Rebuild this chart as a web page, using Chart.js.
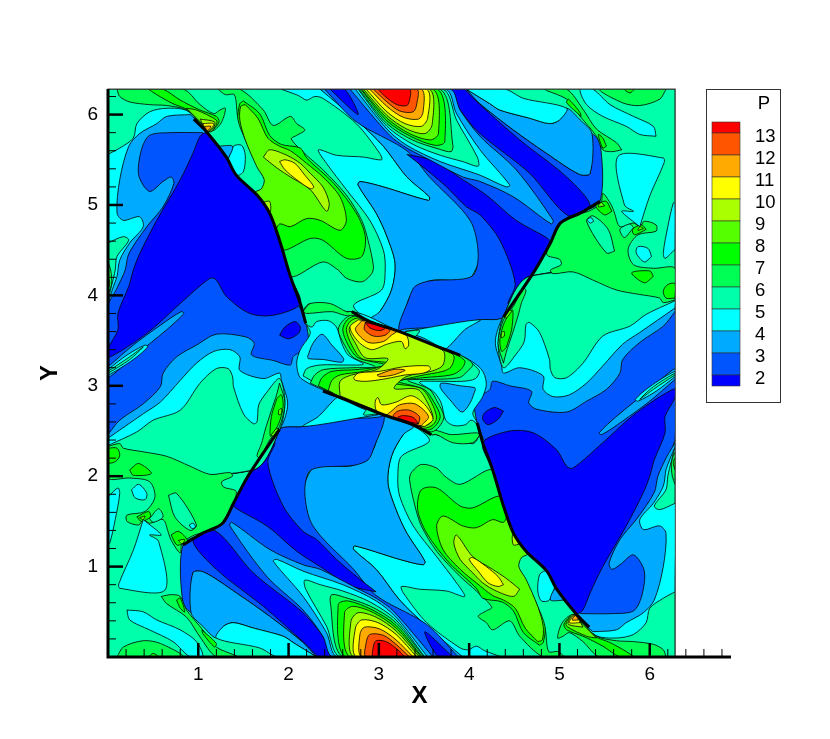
<!DOCTYPE html>
<html>
<head>
<meta charset="utf-8">
<style>body{margin:0;background:#fff}canvas{display:block}</style>
<script src="https://cdn.jsdelivr.net/npm/chart.js@4/dist/chart.umd.min.js"></script>
</head>
<body>
<canvas id="myChart" width="830" height="739"></canvas>
<script>
// contour levels and band colours, lowest band first
const levels = [2,3,4,5,6,7,8,9,10,11,12,13];
const bandColors = ['#0000ff','#0055ff','#00aaff','#00ffff','#00ffaa','#00ff55','#00ff00','#55ff00','#aaff00','#ffff00','#ffaa00','#ff5500','#ff0000'];
const xTicks = [1,2,3,4,5,6];
const yTicks = [1,2,3,4,5,6];

// contour outlines, flat x,y lists in plot units
const frameBox = [0,0, 6.28,0, 6.28,6.28, 0,6.28];

// upper wave and its twin at the bottom
const waveCyan = [1.92,6.28, 2.35,6.28, 2.75,5.94, 3.05,5.65, 3.31,5.31, 3.56,5.09, 3.55,5.05, 3.05,5.20, 2.79,5.26, 2.77,5.22, 2.97,4.91, 3.09,4.65, 3.18,4.35, 3.14,4.06, 3.01,3.82, 2.90,3.73, 2.72,3.89, 3.03,4.06, 3.07,4.28, 3.05,4.50, 2.90,4.83, 2.64,5.17, 2.42,5.46, 2.33,5.61, 2.53,5.55, 2.83,5.53, 3.03,5.50, 3.01,5.57, 2.75,5.90, 2.38,6.18, 2.29,6.20, 2.20,6.16, 2.11,6.21];
const waveCyanB = [4.36,0, 3.93,0, 3.53,.34, 3.23,.63, 2.97,.97, 2.72,1.19, 2.73,1.23, 3.23,1.08, 3.49,1.02, 3.51,1.06, 3.31,1.37, 3.19,1.63, 3.10,1.93, 3.14,2.22, 3.27,2.46, 3.38,2.55, 3.56,2.39, 3.25,2.22, 3.21,2.00, 3.23,1.78, 3.38,1.45, 3.64,1.11, 3.86,.82, 3.95,.67, 3.75,.73, 3.45,.75, 3.25,.78, 3.27,.71, 3.53,.38, 3.90,.10, 3.99,.08, 4.08,.12, 4.17,.07];
const waveL3 = [2.35,6.28, 2.75,5.94, 3.05,5.65, 3.31,5.31, 3.56,5.09, 3.55,5.05, 3.05,5.20, 2.79,5.26, 2.77,5.22, 2.97,4.91, 3.09,4.65, 3.18,4.35, 3.14,4.06, 3.01,3.82, 2.90,3.73, 3.23,3.60, 3.34,3.98, 3.56,4.16, 4.03,4.21, 4.23,5.28, 3.12,6.28];
const waveL3B = [3.93,0, 3.53,.34, 3.23,.63, 2.97,.97, 2.72,1.19, 2.73,1.23, 3.23,1.08, 3.49,1.02, 3.51,1.06, 3.31,1.37, 3.19,1.63, 3.10,1.93, 3.14,2.22, 3.27,2.46, 3.38,2.55, 3.05,2.68, 2.94,2.30, 2.72,2.12, 2.25,2.07, 2.05,1.00, 3.16,0];
const waveL2 = [2.40,6.28, 2.75,5.92, 3.31,5.60, 3.56,5.31, 4.01,4.83, 4.10,4.46, 4.03,4.21, 3.56,4.16, 3.40,4.10, 3.34,3.98, 3.23,3.60, 3.68,3.65, 4.12,3.73, 4.38,3.76, 4.73,4.28, 4.89,4.58, 5.00,4.80, 5.22,4.91, 5.45,5.04, 5.45,5.68, 5.34,5.79, 5.34,5.35, 5.22,5.34, 4.86,5.57, 4.49,5.83, 4.12,6.12, 3.97,6.28];
const waveL2B = [3.88,0, 3.53,.36, 2.97,.68, 2.72,.97, 2.27,1.45, 2.18,1.82, 2.25,2.07, 2.72,2.12, 2.88,2.18, 2.94,2.30, 3.05,2.68, 2.60,2.63, 2.16,2.55, 1.90,2.52, 1.55,2.00, 1.39,1.70, 1.28,1.48, 1.06,1.37, .83,1.24, .83,.60, .94,.49, .94,.93, 1.06,.94, 1.42,.71, 1.79,.45, 2.16,.16, 2.31,0];
const sideL3 = [3.97,6.28, 4.23,6.12, 4.34,6.05, 4.67,5.96, 4.89,5.90, 5.00,5.94, 5.08,6.07, 5.23,5.94, 5.36,5.79, 5.34,5.35, 5.22,5.34, 4.86,5.57, 4.49,5.83, 4.12,6.12];
const sideL3B = [2.31,0, 2.05,.16, 1.94,.23, 1.61,.32, 1.39,.38, 1.28,.34, 1.20,.21, 1.05,.34, .92,.49, .94,.93, 1.06,.94, 1.42,.71, 1.79,.45, 2.16,.16];
const sideCyan = [3.97,6.28, 4.40,6.28, 4.60,6.18, 5.08,6.07, 5.00,5.94, 4.89,5.90, 4.67,5.96, 4.34,6.05, 4.23,6.12];
const sideCyanB = [2.31,0, 1.88,0, 1.68,.10, 1.20,.21, 1.28,.34, 1.39,.38, 1.61,.32, 1.94,.23, 2.05,.16];
const tipL1 = [2.46,6.28, 2.77,6.00, 2.62,6.28];
const tipL1B = [3.82,0, 3.51,.28, 3.66,0];
const stripL1 = [3.95,6.28, 4.12,6.11, 4.56,5.72, 5.08,5.31, 5.34,4.99, 5.10,4.88, 4.67,5.35, 4.12,5.79, 3.93,6.01, 3.77,6.28];
const stripL1B = [2.33,0, 2.16,.17, 1.72,.56, 1.20,.97, .94,1.29, 1.18,1.40, 1.61,.93, 2.16,.49, 2.35,.27, 2.51,0];
const wedgeL1 = [3.31,5.56, 3.60,5.49, 3.93,5.28, 4.19,5.11, 4.52,4.83, 4.87,4.63, 4.89,4.58, 4.67,4.17, 4.49,3.89, 4.43,3.91, 4.51,4.13, 4.34,4.61, 4.12,4.89, 3.97,4.98, 3.75,5.20, 3.49,5.42];
const wedgeL1B = [2.97,.72, 2.68,.79, 2.35,1.00, 2.09,1.17, 1.76,1.45, 1.41,1.65, 1.39,1.70, 1.61,2.11, 1.79,2.39, 1.85,2.37, 1.77,2.15, 1.94,1.67, 2.16,1.39, 2.31,1.30, 2.53,1.08, 2.79,.86];

// top peak and bottom peak, outermost first
const peak3 = [2.68,6.28, 3.12,5.77, 3.31,5.63, 3.56,5.50, 3.93,5.31, 4.12,5.26, 4.49,5.09, 4.91,4.79, 4.93,4.83, 4.52,5.39, 4.12,5.76, 3.90,6.05, 3.79,6.28];
const peak3B = [3.60,0, 3.16,.51, 2.97,.65, 2.72,.78, 2.35,.97, 2.16,1.02, 1.79,1.19, 1.37,1.49, 1.35,1.45, 1.76,.89, 2.16,.52, 2.38,.23, 2.49,0];
const peak4 = [2.74,6.28, 3.09,5.84, 3.31,5.66, 3.68,5.48, 4.12,5.33, 4.41,5.20, 4.45,5.22, 4.12,5.61, 3.86,6.01, 3.74,6.28];
const peak4B = [3.54,0, 3.19,.44, 2.97,.62, 2.60,.80, 2.16,.95, 1.87,1.08, 1.83,1.06, 2.16,.67, 2.42,.27, 2.54,0];
const peak5 = [2.77,6.28, 3.09,5.87, 3.38,5.67, 3.68,5.55, 3.93,5.48, 4.10,5.43, 4.09,5.53, 3.86,5.94, 3.71,6.28];
const peak5B = [3.51,0, 3.19,.41, 2.90,.61, 2.60,.73, 2.35,.80, 2.18,.85, 2.19,.75, 2.42,.34, 2.57,0];
const peak6 = [2.78,6.28, 3.09,5.90, 3.37,5.72, 3.66,5.62, 3.80,5.59, 3.82,5.66, 3.68,6.28];
const peak6B = [3.50,0, 3.19,.38, 2.91,.56, 2.62,.66, 2.48,.69, 2.46,.62, 2.60,0];
const peak7 = [2.80,6.28, 3.09,5.93, 3.35,5.76, 3.62,5.66, 3.73,5.70, 3.65,6.28];
const peak7B = [3.48,0, 3.19,.35, 2.93,.52, 2.66,.62, 2.55,.58, 2.63,0];
const peak8 = [2.81,6.28, 3.09,5.96, 3.34,5.79, 3.57,5.72, 3.66,5.79, 3.60,6.28];
const peak8B = [3.47,0, 3.19,.32, 2.94,.49, 2.71,.56, 2.62,.49, 2.68,0];
const peak9 = [2.83,6.28, 3.09,5.99, 3.31,5.84, 3.51,5.79, 3.59,5.89, 3.56,6.28];
const peak9B = [3.45,0, 3.19,.29, 2.97,.44, 2.77,.49, 2.69,.39, 2.72,0];
const peak10 = [2.86,6.28, 3.09,6.03, 3.29,5.90, 3.47,5.87, 3.54,5.96, 3.53,6.28];
const peak10B = [3.42,0, 3.19,.25, 2.99,.38, 2.81,.41, 2.74,.32, 2.75,0];
const peak11 = [2.90,6.28, 3.09,6.09, 3.27,5.97, 3.44,5.95, 3.49,6.03, 3.47,6.28];
const peak11B = [3.38,0, 3.19,.19, 3.01,.31, 2.84,.33, 2.79,.25, 2.81,0];
const peak12 = [2.94,6.28, 3.09,6.14, 3.23,6.04, 3.38,6.03, 3.42,6.12, 3.42,6.28];
const peak12B = [3.34,0, 3.19,.14, 3.05,.24, 2.90,.25, 2.86,.16, 2.86,0];
const peak13 = [2.99,6.28, 3.07,6.20, 3.20,6.11, 3.31,6.10, 3.34,6.16, 3.34,6.28];
const peak13B = [3.29,0, 3.21,.08, 3.08,.17, 2.97,.18, 2.94,.12, 2.94,0];

// ridge behind the long shocks
const ridge6 = [1.22,6.28, 1.30,6.22, 1.40,6.22, 1.44,5.96, 1.54,5.72, 1.72,5.35, 1.76,5.24, 1.72,5.16, 1.65,5.11, 1.79,4.91, 1.90,4.61, 2.02,4.21, 2.38,4.37, 2.55,4.28, 2.64,4.19, 2.81,4.15, 2.92,4.24, 2.94,4.32, 2.88,4.61, 2.81,4.83, 2.64,5.11, 2.38,5.39, 2.20,5.55, 2.03,5.73, 2.09,5.77, 2.18,5.83, 2.09,5.90, 2.02,5.98, 1.83,5.88, 1.72,6.05, 1.46,6.28];
const ridge6B = [5.06,0, 4.98,.06, 4.88,.06, 4.84,.32, 4.74,.56, 4.56,.93, 4.52,1.04, 4.56,1.12, 4.63,1.17, 4.49,1.37, 4.38,1.67, 4.26,2.07, 3.90,1.91, 3.73,2.00, 3.64,2.09, 3.47,2.13, 3.36,2.04, 3.34,1.96, 3.40,1.67, 3.47,1.45, 3.64,1.17, 3.90,.89, 4.08,.73, 4.25,.55, 4.19,.51, 4.10,.45, 4.19,.38, 4.26,.30, 4.45,.40, 4.56,.23, 4.82,0];
const ridge7 = [1.50,6.15, 1.68,6.01, 1.79,5.77, 1.92,5.67, 2.13,5.63, 2.20,5.52, 2.50,5.24, 2.75,4.91, 2.85,4.65, 2.81,4.43, 2.64,4.41, 2.38,4.61, 2.24,4.63, 1.95,4.50, 1.90,4.61, 1.79,4.91, 1.68,5.08, 1.63,5.14, 1.72,5.16, 1.76,5.24, 1.70,5.35, 1.54,5.68, 1.44,5.94, 1.46,6.12];
const ridge7B = [4.78,.13, 4.60,.27, 4.49,.51, 4.36,.61, 4.15,.65, 4.08,.76, 3.78,1.04, 3.53,1.37, 3.43,1.63, 3.47,1.85, 3.64,1.87, 3.90,1.67, 4.04,1.65, 4.33,1.78, 4.38,1.67, 4.49,1.37, 4.60,1.20, 4.65,1.14, 4.56,1.12, 4.52,1.04, 4.58,.93, 4.74,.60, 4.84,.34, 4.82,.16];
const ridge8 = [1.52,6.11, 1.66,5.96, 1.77,5.74, 1.90,5.65, 2.02,5.60, 2.20,5.46, 2.38,5.31, 2.57,5.09, 2.64,4.83, 2.57,4.72, 2.35,4.83, 2.20,4.85, 2.02,4.76, 1.90,4.79, 1.83,4.68, 1.79,4.91, 1.68,5.08, 1.63,5.14, 1.70,5.18, 1.73,5.28, 1.65,5.42, 1.52,5.72, 1.46,5.94, 1.47,6.09];
const ridge8B = [4.76,.17, 4.62,.32, 4.51,.54, 4.38,.63, 4.26,.68, 4.08,.82, 3.90,.97, 3.71,1.19, 3.64,1.45, 3.71,1.56, 3.93,1.45, 4.08,1.43, 4.26,1.52, 4.38,1.49, 4.45,1.60, 4.49,1.37, 4.60,1.20, 4.65,1.14, 4.58,1.10, 4.55,1.00, 4.63,.86, 4.76,.56, 4.82,.34, 4.81,.19];
const ridge9 = [1.72,5.53, 1.79,5.61, 1.98,5.55, 2.13,5.46, 2.24,5.35, 2.38,5.20, 2.45,5.02, 2.42,4.93, 2.24,5.17, 2.02,5.31, 1.87,5.41];
const ridge9B = [4.56,.75, 4.49,.67, 4.30,.73, 4.15,.82, 4.04,.93, 3.90,1.08, 3.83,1.26, 3.86,1.35, 4.04,1.11, 4.26,.97, 4.41,.87];
const ridge10 = [1.90,5.48, 1.96,5.50, 2.07,5.46, 2.18,5.33, 2.28,5.20, 2.24,5.18, 2.09,5.28, 1.96,5.39];
const ridge10B = [4.38,.80, 4.32,.78, 4.21,.82, 4.10,.95, 4.00,1.08, 4.04,1.10, 4.19,1.00, 4.32,.89];
const blip9 = [1.72,5.03, 1.79,5.04, 1.80,4.93, 1.76,4.96];
const blip9B = [4.56,1.25, 4.49,1.24, 4.48,1.35, 4.52,1.32];
const pocketCyan = [1.33,5.50, 1.39,5.65, 1.48,5.66, 1.52,5.55, 1.50,5.37, 1.43,5.33];
const pocketCyanB = [4.95,.78, 4.89,.63, 4.80,.62, 4.76,.73, 4.78,.91, 4.85,.95];
const pocketL3 = [1.22,5.65, 1.38,5.65, 1.32,5.52];
const pocketL3B = [5.06,.63, 4.90,.63, 4.96,.76];

// upper left corner around the shock apex
const cornerCyan = [0,5.56, .13,5.63, .28,5.74, .32,5.90, .46,6.03, .65,6.07, .88,6.04, 1.09,5.81, .83,4.91, .28,4.17, .13,4.02, 0,3.93];
const cornerCyanB = [6.28,.72, 6.15,.65, 6.00,.54, 5.96,.38, 5.82,.25, 5.63,.21, 5.40,.24, 5.19,.47, 5.45,1.37, 6.00,2.11, 6.15,2.26, 6.28,2.35];
const cornerL3 = [.91,6.00, .65,5.98, .54,5.90, .35,5.79, .23,5.65, .13,5.28, .10,4.91, .17,4.83, .35,4.87, .39,4.76, .24,4.58, .13,4.39, .10,4.21, .06,4.10, 0,3.93, .65,4.54, 1.09,5.81];
const cornerL3B = [5.37,.28, 5.63,.30, 5.74,.38, 5.93,.49, 6.05,.63, 6.15,1.00, 6.18,1.37, 6.11,1.45, 5.93,1.41, 5.89,1.52, 6.04,1.70, 6.15,1.89, 6.18,2.07, 6.22,2.18, 6.28,2.35, 5.63,1.74, 5.19,.47];
const cornerL2 = [1.05,5.80, .69,5.80, .46,5.77, .37,5.61, .34,5.33, .46,5.15, .61,5.26, .70,5.31, .73,5.24, .61,4.98, .43,4.76, .23,4.46, .19,4.28, .10,4.08, 0,3.87, 0,2.43, 2.13,3.17, 2.19,3.69, 1.57,4.91];
const cornerL2B = [5.23,.48, 5.59,.48, 5.82,.51, 5.91,.67, 5.94,.95, 5.82,1.13, 5.67,1.02, 5.58,.97, 5.55,1.04, 5.67,1.30, 5.85,1.52, 6.05,1.82, 6.09,2.00, 6.18,2.20, 6.28,2.41, 6.28,3.85, 4.15,3.11, 4.09,2.59, 4.71,1.37];
const apex6 = [.10,6.28, .13,6.20, .24,6.14, .46,6.11, .65,6.10, .87,6.05, 1.02,5.90, 1.09,5.81, 1.18,5.83, 1.26,5.92, 1.30,6.07, 1.24,6.05, 1.17,6.01, 1.02,6.11, .83,6.28];
const apex6B = [6.18,0, 6.15,.08, 6.04,.14, 5.82,.17, 5.63,.18, 5.41,.23, 5.26,.38, 5.19,.47, 5.10,.45, 5.02,.36, 4.98,.21, 5.04,.23, 5.11,.27, 5.26,.17, 5.45,0];
const apex7 = [.45,6.28, .54,6.22, .72,6.12, .89,6.05, 1.02,5.92, 1.09,5.81, 1.17,5.84, 1.23,5.92, 1.20,5.98, 1.02,6.05, .80,6.16, .61,6.28];
const apex7B = [5.83,0, 5.74,.06, 5.56,.16, 5.39,.23, 5.26,.36, 5.19,.47, 5.11,.44, 5.05,.36, 5.08,.30, 5.26,.23, 5.48,.12, 5.67,0];
const apex8 = [.87,6.07, .98,6.05, 1.20,5.94, 1.20,5.89, 1.13,5.81, 1.02,5.92];
const apex8B = [5.41,.21, 5.30,.23, 5.08,.34, 5.08,.39, 5.15,.47, 5.26,.36];
const apex9 = [1.02,5.95, 1.18,5.92, 1.17,5.86, 1.10,5.81];
const apex9B = [5.26,.33, 5.10,.36, 5.11,.42, 5.18,.47];
const apex10 = [1.05,5.90, 1.17,5.90, 1.13,5.83, 1.09,5.82];
const apex10B = [5.23,.38, 5.11,.38, 5.15,.45, 5.19,.46];
const apex11 = [1.07,5.87, 1.14,5.87, 1.10,5.82];
const apex11B = [5.21,.41, 5.14,.41, 5.18,.46];

// big low pressure wedges
const lowL1 = [1.09,5.81, 1.31,5.53, 1.42,5.33, 1.65,5.11, 1.79,4.91, 1.90,4.61, 2.02,4.21, 2.13,3.91, 1.83,3.78, 1.57,3.80, 1.31,3.99, 1.20,4.17, 1.13,4.19, .80,3.91, .43,3.58, 0,3.31, 0,3.41, .11,3.62, .11,3.80, .23,4.10, .28,4.28, .35,4.46, .54,4.83, .80,5.28, .94,5.57, 1.02,5.76];
const lowL1B = [5.19,.47, 4.97,.75, 4.86,.95, 4.63,1.17, 4.49,1.37, 4.38,1.67, 4.26,2.07, 4.15,2.37, 4.45,2.50, 4.71,2.48, 4.97,2.29, 5.08,2.11, 5.15,2.09, 5.48,2.37, 5.85,2.70, 6.28,2.97, 6.28,2.87, 6.17,2.66, 6.17,2.48, 6.05,2.18, 6.00,2.00, 5.93,1.82, 5.74,1.45, 5.48,1.00, 5.34,.71, 5.26,.52];
const islandL1 = [1.90,3.56, 1.96,3.65, 2.07,3.71, 2.13,3.65, 2.11,3.58, 2.00,3.52];
const islandL1B = [4.38,2.72, 4.32,2.63, 4.21,2.57, 4.15,2.63, 4.17,2.70, 4.28,2.76];
const spit3 = [0,3.21, .28,3.45, .58,3.67, .81,3.82, .84,3.80, .65,3.62, .28,3.32, 0,3.09];
const spit3B = [6.28,3.07, 6.00,2.83, 5.70,2.61, 5.47,2.46, 5.44,2.48, 5.63,2.66, 6.00,2.96, 6.28,3.19];
const spit4 = [0,3.18, .21,3.34, .41,3.45, .44,3.43, .28,3.29, 0,3.12];
const spit4B = [6.28,3.10, 6.07,2.94, 5.87,2.83, 5.84,2.85, 6.00,2.99, 6.28,3.16];
const spit5 = [0,3.16, .24,3.32, .39,3.43, .24,3.29, 0,3.14];
const spit5B = [6.28,3.12, 6.04,2.96, 5.89,2.85, 6.04,2.99, 6.28,3.14];
const edge5 = [0,4.58, .17,4.65, .23,4.61, .10,4.43, .08,4.28, .04,4.11, 0,3.97];
const edge5B = [6.28,1.70, 6.11,1.63, 6.05,1.67, 6.18,1.85, 6.20,2.00, 6.24,2.17, 6.28,2.31];
const edge6 = [0,4.37, .03,4.28, .04,4.13, 0,4.02];
const edge6B = [6.28,1.91, 6.25,2.00, 6.24,2.15, 6.28,2.26];
const edge7 = [0,4.21, .02,4.13, 0,4.08];
const edge7B = [6.28,2.07, 6.26,2.15, 6.28,2.20];

// bands running in from the left edge
const flankL3 = [0,2.46, .13,2.62, .39,2.80, .58,2.99, .61,3.14, .76,3.32, .98,3.45, 1.20,3.57, 1.53,3.54, 1.62,3.47, 1.59,3.34, 1.83,3.28, 2.02,3.23, 2.05,3.32, 2.13,3.36, 2.27,3.17, 2.60,3.00, 3.05,2.68, 2.60,2.63, 2.16,2.55, 1.90,2.52, 1.61,2.07, 0,2.07];
const flankL3B = [6.28,3.82, 6.15,3.66, 5.89,3.48, 5.70,3.29, 5.67,3.14, 5.52,2.96, 5.30,2.83, 5.08,2.71, 4.75,2.74, 4.66,2.81, 4.69,2.94, 4.45,3.00, 4.26,3.05, 4.23,2.96, 4.15,2.92, 4.01,3.11, 3.68,3.28, 3.23,3.60, 3.68,3.65, 4.12,3.73, 4.38,3.76, 4.67,4.21, 6.28,4.21];
const flankCyan = [0,2.42, .39,2.69, .58,2.82, .80,3.06, .98,3.25, 1.17,3.38, 1.35,3.40, 1.46,3.32, 1.46,3.17, 1.72,3.08, 1.90,3.14, 1.92,3.06, 1.99,2.80, 1.92,2.55, 1.61,2.07, 0,2.07];
const flankCyanB = [6.28,3.86, 5.89,3.59, 5.70,3.46, 5.48,3.22, 5.30,3.03, 5.11,2.90, 4.93,2.88, 4.82,2.96, 4.82,3.11, 4.56,3.20, 4.38,3.14, 4.36,3.22, 4.29,3.48, 4.36,3.73, 4.67,4.21, 6.28,4.21];
const flank5 = [0,2.34, .32,2.49, .50,2.62, .80,2.73, 1.02,3.03, 1.20,3.19, 1.33,3.19, 1.38,3.10, 1.39,2.99, 1.50,2.69, 1.61,2.58, 1.65,2.60, 1.67,2.79, 1.76,2.93, 1.90,3.08, 1.96,2.82, 1.90,2.51, 1.61,2.07, 0,2.07];
const flank5B = [6.28,3.94, 5.96,3.79, 5.78,3.66, 5.48,3.55, 5.26,3.25, 5.08,3.09, 4.95,3.09, 4.90,3.18, 4.89,3.29, 4.78,3.59, 4.67,3.70, 4.63,3.68, 4.61,3.49, 4.52,3.35, 4.38,3.20, 4.32,3.46, 4.38,3.77, 4.67,4.21, 6.28,4.21];
const sliver6 = [1.90,3.03, 1.96,2.81, 1.90,2.55, 1.79,2.40, 1.68,2.20, 1.65,2.23, 1.70,2.36, 1.74,2.51, 1.81,2.73, 1.87,2.91];
const sliver6B = [4.38,3.25, 4.32,3.47, 4.38,3.73, 4.49,3.88, 4.60,4.08, 4.63,4.05, 4.58,3.92, 4.54,3.77, 4.47,3.55, 4.41,3.37];
const sliver7 = [1.87,2.86, 1.92,2.90, 1.94,2.77, 1.89,2.58, 1.80,2.44, 1.81,2.66];
const sliver7B = [4.41,3.42, 4.36,3.38, 4.34,3.51, 4.39,3.70, 4.48,3.84, 4.47,3.62];
const oval8a = [1.89,2.73, 1.92,2.75, 1.92,2.69, 1.89,2.68];
const oval8aB = [4.39,3.55, 4.36,3.53, 4.36,3.59, 4.39,3.60];
const oval8b = [1.81,2.46, 1.87,2.53, 1.89,2.51, 1.83,2.44];
const oval8bB = [4.47,3.82, 4.41,3.75, 4.39,3.77, 4.45,3.84];

// lower left patches
const patch6 = [0,2.33, .13,2.36, .17,2.31, .39,2.27, .65,2.22, .91,2.11, 1.13,2.02, 1.35,2.04, 1.38,2.00, 1.26,1.94, 1.28,1.88, 1.42,1.83, 1.35,1.63, 1.20,1.42, .96,1.35, .82,1.26, .80,1.15, .70,1.29, .67,1.37, .61,1.52, .46,1.48, .39,1.52, .34,1.46, .21,1.50, .21,1.57, .41,1.61, .52,1.77, .46,1.94, .24,1.98, 0,1.98];
const patch6B = [6.28,3.95, 6.15,3.92, 6.11,3.97, 5.89,4.01, 5.63,4.06, 5.37,4.17, 5.15,4.26, 4.93,4.24, 4.90,4.28, 5.02,4.34, 5.00,4.40, 4.86,4.45, 4.93,4.65, 5.08,4.86, 5.32,4.93, 5.46,5.02, 5.48,5.13, 5.58,4.99, 5.61,4.91, 5.67,4.76, 5.82,4.80, 5.89,4.76, 5.94,4.82, 6.07,4.78, 6.07,4.71, 5.87,4.67, 5.76,4.51, 5.82,4.34, 6.04,4.30, 6.28,4.30];
const blob7a = [0,2.31, .10,2.31, .13,2.23, .08,2.16, 0,2.15];
const blob7aB = [6.28,3.97, 6.18,3.97, 6.15,4.05, 6.20,4.12, 6.28,4.13];
const blob7b = [.24,2.07, .34,2.14, .48,2.03, .28,2.01];
const blob7bB = [6.04,4.21, 5.94,4.14, 5.80,4.25, 6.00,4.27];
const hole5a = [.67,1.79, .76,1.81, .98,1.46, .91,1.40, .74,1.55];
const hole5aB = [5.61,4.49, 5.52,4.47, 5.30,4.82, 5.37,4.88, 5.54,4.73];
const dot4a = [.90,1.46, .94,1.48, .97,1.44, .93,1.42];
const dot4aB = [5.38,4.82, 5.34,4.80, 5.31,4.84, 5.35,4.86];
const dot4b = [.26,1.85, .34,1.91, .43,1.81, .41,1.74, .30,1.76];
const dot4bB = [6.02,4.43, 5.94,4.37, 5.85,4.47, 5.87,4.54, 5.98,4.52];
const hole5b = [.46,1.53, .56,1.64, .61,1.55, .50,1.49];
const hole5bB = [5.82,4.75, 5.72,4.64, 5.67,4.73, 5.78,4.79];
const knot7c = [.32,1.55, .45,1.61, .47,1.55, .37,1.50];
const knot7cB = [5.96,4.73, 5.83,4.67, 5.81,4.73, 5.91,4.78];
const knot8c = [.35,1.54, .41,1.56, .39,1.52];
const knot8cB = [5.93,4.74, 5.87,4.72, 5.89,4.76];
const knot7d = [.70,1.35, .78,1.39, .88,1.29, .82,1.25, .76,1.24];
const knot7dB = [5.58,4.93, 5.50,4.89, 5.40,4.99, 5.46,5.03, 5.52,5.04];
const knot8d = [.78,1.29, .85,1.30, .82,1.25];
const knot8dB = [5.50,4.99, 5.43,4.98, 5.46,5.03];
const trapCyan = [.39,1.52, .59,1.35, .46,1.35, .56,1.28, .63,.74, .13,.76, .12,.81, .28,1.18];
const trapCyanB = [5.89,4.76, 5.69,4.93, 5.82,4.93, 5.72,5.00, 5.65,5.54, 6.15,5.52, 6.16,5.47, 6.00,5.10];
const edgeCyan = [0,1.77, .11,1.87, .13,1.81, .08,1.52, .02,1.26, 0,1.26];
const edgeCyanB = [6.28,4.51, 6.17,4.41, 6.15,4.47, 6.20,4.76, 6.26,5.02, 6.28,5.02];
const lowCyan = [.21,.52, .39,.50, .54,.41, .80,.30, .98,.17, 1.05,0, .91,0, .72,.17, .46,.30, .24,.41];
const lowCyanB = [6.07,5.76, 5.89,5.78, 5.74,5.87, 5.48,5.98, 5.30,6.11, 5.23,6.28, 5.37,6.28, 5.56,6.11, 5.82,5.98, 6.04,5.87];
const floor6 = [.10,0, .17,.11, .39,.18, .58,.15, .83,0];
const floor6B = [6.18,6.28, 6.11,6.17, 5.89,6.10, 5.70,6.13, 5.45,6.28];
const floor7 = [.45,0, .50,.04, .56,0];
const floor7B = [5.83,6.28, 5.78,6.24, 5.72,6.28];
const streak6 = [.59,.67, .70,.69, .80,.67, .87,.52, 1.05,.30, 1.20,.11, 1.44,0, 1.20,0, 1.02,.22, .87,.44, .65,.59];
const streak6B = [5.69,5.61, 5.58,5.59, 5.48,5.61, 5.41,5.76, 5.23,5.98, 5.08,6.17, 4.84,6.28, 5.08,6.28, 5.26,6.06, 5.41,5.84, 5.63,5.69];
const streak7a = [.76,.63, .80,.65, .85,.50, .80,.54];
const streak7aB = [5.52,5.65, 5.48,5.63, 5.43,5.78, 5.48,5.74];
const streak7b = [1.04,.30, 1.20,.15, 1.18,.11, 1.05,.26];
const streak7bB = [5.24,5.98, 5.08,6.13, 5.10,6.17, 5.23,6.02];

// centre lens
const lensCyan = [2.19,3.69, 2.24,3.58, 2.13,3.40, 2.09,3.25, 2.14,3.08, 2.57,2.88, 3.01,2.71, 3.56,2.51, 4.08,2.58, 4.04,2.70, 4.15,2.88, 4.19,3.03, 4.13,3.19, 3.90,3.34, 3.23,3.60, 2.70,3.82];
const lens5 = [2.16,3.11, 2.20,3.19, 2.35,3.23, 2.64,3.23, 2.83,3.24, 2.66,3.34, 2.59,3.47, 2.53,3.65, 2.44,3.72, 2.31,3.71, 2.26,3.65, 2.19,3.69, 2.16,3.82, 2.24,3.91, 2.64,3.82, 2.70,3.82, 2.90,3.71, 3.23,3.60, 3.71,3.41, 3.90,3.34, 4.11,3.17, 4.07,3.08, 3.93,3.05, 3.63,3.05, 3.45,3.04, 3.61,2.93, 3.69,2.81, 3.74,2.62, 3.83,2.56, 3.96,2.57, 4.02,2.62, 4.08,2.58, 4.11,2.46, 4.04,2.36, 3.63,2.46, 3.58,2.46, 3.37,2.57, 3.01,2.71, 2.57,2.88];
const lensHole = [2.21,3.32, 2.27,3.47, 2.37,3.57, 2.48,3.45, 2.61,3.30, 2.59,3.26, 2.39,3.29, 2.22,3.30];
const lensHoleB = [4.07,2.96, 4.01,2.81, 3.92,2.71, 3.80,2.83, 3.68,2.98, 3.69,3.03, 3.90,3.00, 4.06,2.98];
const lensArc = [2.16,3.82, 2.24,3.91, 2.46,3.91, 2.64,3.82, 2.70,3.82, 2.74,3.77, 2.62,3.78, 2.48,3.82, 2.20,3.80];
const lensArcB = [4.12,2.46, 4.04,2.37, 3.82,2.37, 3.64,2.46, 3.58,2.46, 3.55,2.52, 3.66,2.50, 3.80,2.46, 4.08,2.48];
const lens6 = [2.24,3.03, 2.29,3.12, 2.39,3.18, 2.72,3.20, 2.96,3.21, 2.72,3.31, 2.62,3.45, 2.55,3.62, 2.61,3.73, 2.70,3.78, 2.90,3.71, 3.23,3.60, 3.71,3.41, 3.90,3.34, 4.04,3.24, 3.98,3.16, 3.89,3.09, 3.56,3.07, 3.32,3.06, 3.56,2.96, 3.65,2.82, 3.72,2.66, 3.67,2.55, 3.58,2.49, 3.37,2.57, 3.01,2.71, 2.57,2.88];
const lens7 = [2.33,3.00, 2.37,3.09, 2.48,3.16, 2.77,3.18, 3.07,3.23, 2.77,3.31, 2.66,3.45, 2.60,3.62, 2.65,3.73, 2.74,3.77, 2.90,3.71, 3.23,3.60, 3.71,3.41, 3.95,3.28, 3.91,3.18, 3.80,3.12, 3.50,3.09, 3.21,3.05, 3.50,2.96, 3.61,2.82, 3.68,2.66, 3.62,2.55, 3.54,2.51, 3.37,2.57, 3.01,2.71, 2.57,2.88];
const lens8 = [2.44,2.95, 2.48,3.06, 2.57,3.12, 2.83,3.16, 3.10,3.25, 2.81,3.30, 2.70,3.45, 2.64,3.62, 2.68,3.71, 2.77,3.75, 2.90,3.71, 3.23,3.60, 3.71,3.41, 3.83,3.33, 3.80,3.21, 3.71,3.16, 3.45,3.11, 3.17,3.03, 3.47,2.97, 3.58,2.82, 3.64,2.65, 3.60,2.57, 3.50,2.53, 3.37,2.57, 3.01,2.71, 2.57,2.88];
const lens9 = [2.57,2.89, 2.57,3.05, 2.70,3.12, 2.98,3.18, 3.10,3.30, 2.85,3.31, 2.74,3.47, 2.67,3.62, 2.72,3.69, 2.81,3.73, 2.90,3.71, 3.23,3.60, 3.71,3.39, 3.71,3.23, 3.58,3.16, 3.30,3.10, 3.17,2.97, 3.43,2.96, 3.54,2.81, 3.60,2.65, 3.56,2.58, 3.47,2.55, 3.37,2.57, 3.01,2.71];
const lens10 = [2.77,3.73, 2.68,3.65, 2.77,3.49, 2.92,3.40, 3.09,3.46, 3.25,3.49, 3.29,3.41, 3.33,3.45, 3.31,3.55, 3.23,3.60, 2.90,3.71];
const lens10B = [3.51,2.55, 3.60,2.63, 3.51,2.79, 3.36,2.89, 3.19,2.82, 3.03,2.79, 2.99,2.87, 2.96,2.83, 2.97,2.73, 3.05,2.68, 3.38,2.57];
const lens11 = [2.81,3.72, 2.74,3.62, 2.88,3.48, 3.05,3.49, 3.14,3.56, 3.20,3.61, 2.90,3.71];
const lens11B = [3.47,2.56, 3.55,2.66, 3.40,2.80, 3.23,2.79, 3.14,2.72, 3.09,2.67, 3.38,2.57];
const lens12 = [2.85,3.70, 2.84,3.62, 2.94,3.55, 3.07,3.56, 3.12,3.62, 2.90,3.71];
const lens12B = [3.44,2.58, 3.45,2.66, 3.34,2.73, 3.21,2.72, 3.16,2.66, 3.38,2.57];
const lens13 = [2.85,3.70, 2.90,3.64, 3.01,3.61, 3.07,3.64, 2.94,3.68];
const lens13B = [3.44,2.58, 3.38,2.65, 3.27,2.67, 3.21,2.65, 3.34,2.60];
const midYellow = [2.72,3.09, 2.77,3.14, 3.01,3.16, 3.27,3.21, 3.55,3.22, 3.57,3.18, 3.49,3.14, 3.29,3.12, 3.09,3.08, 2.87,3.05, 2.74,3.06];
const midOrange = [2.98,3.12, 3.16,3.18, 3.27,3.18, 3.29,3.17, 3.16,3.12, 3.01,3.10];
const gapCyan = [3.29,3.60, 4.12,3.73, 3.95,3.62, 3.79,3.45, 3.73,3.41, 3.49,3.53];
const gapCyanB = [2.99,2.68, 2.16,2.55, 2.33,2.66, 2.49,2.83, 2.55,2.87, 2.79,2.76];
const gap5 = [3.29,3.60, 3.45,3.61, 3.37,3.52, 3.31,3.56];
const gap5B = [2.99,2.69, 2.83,2.68, 2.91,2.77, 2.97,2.72];

// shock fronts, drawn as heavy open lines
const shockA = [.95,5.95, 1.09,5.81, 1.31,5.53, 1.42,5.33, 1.65,5.11, 1.79,4.91, 1.90,4.61, 2.02,4.21, 2.13,3.91, 2.19,3.69];
const shockAB = [5.33,.33, 5.19,.47, 4.97,.75, 4.86,.95, 4.63,1.17, 4.49,1.37, 4.38,1.67, 4.26,2.07, 4.15,2.37, 4.09,2.59];
const shockC = [2.70,3.82, 2.90,3.71, 3.23,3.60, 3.71,3.41, 3.90,3.34];
const shockCB = [2.38,2.94, 2.57,2.87, 3.05,2.68, 3.38,2.57, 3.58,2.46];
const shockD = [5.45,5.04, 5.23,4.91, 5.01,4.80, 4.90,4.58, 4.73,4.28, 4.38,3.76];
const shockDB = [.83,1.24, 1.05,1.37, 1.27,1.48, 1.39,1.70, 1.55,2.00, 1.90,2.52];

// paint order, bottom first: [band index, outline]
const layers = [
  [4,frameBox],[3,waveCyan],[3,waveCyanB],[2,waveL3],[2,waveL3B],[1,waveL2],[1,waveL2B],
  [2,sideL3],[2,sideL3B],[3,sideCyan],[3,sideCyanB],[0,tipL1],[0,tipL1B],[0,stripL1],[0,stripL1B],[0,wedgeL1],[0,wedgeL1B],
  [2,peak3],[2,peak3B],[3,peak4],[3,peak4B],[4,peak5],[4,peak5B],[5,peak6],[5,peak6B],[6,peak7],[6,peak7B],[7,peak8],[7,peak8B],
  [8,peak9],[8,peak9B],[9,peak10],[9,peak10B],[10,peak11],[10,peak11B],[11,peak12],[11,peak12B],[12,peak13],[12,peak13B],
  [5,ridge6],[5,ridge6B],[6,ridge7],[6,ridge7B],[7,ridge8],[7,ridge8B],[8,ridge9],[8,ridge9B],[9,ridge10],[9,ridge10B],
  [8,blip9],[8,blip9B],[3,pocketCyan],[3,pocketCyanB],[2,pocketL3],[2,pocketL3B],
  [3,cornerCyan],[3,cornerCyanB],[2,cornerL3],[2,cornerL3B],[1,cornerL2],[1,cornerL2B],
  [5,apex6],[5,apex6B],[6,apex7],[6,apex7B],[7,apex8],[7,apex8B],[8,apex9],[8,apex9B],[9,apex10],[9,apex10B],[10,apex11],[10,apex11B],
  [0,lowL1],[0,lowL1B],[0,islandL1],[0,islandL1B],[2,spit3],[2,spit3B],[3,spit4],[3,spit4B],[4,spit5],[4,spit5B],
  [4,edge5],[4,edge5B],[5,edge6],[5,edge6B],[6,edge7],[6,edge7B],
  [2,flankL3],[2,flankL3B],[3,flankCyan],[3,flankCyanB],[4,flank5],[4,flank5B],
  [5,sliver6],[5,sliver6B],[6,sliver7],[6,sliver7B],[7,oval8a],[7,oval8aB],[7,oval8b],[7,oval8bB],
  [5,patch6],[5,patch6B],[6,blob7a],[6,blob7aB],[6,blob7b],[6,blob7bB],[4,hole5a],[4,hole5aB],[3,dot4a],[3,dot4aB],[3,dot4b],[3,dot4bB],
  [4,hole5b],[4,hole5bB],[6,knot7c],[6,knot7cB],[7,knot8c],[7,knot8cB],[6,knot7d],[6,knot7dB],[7,knot8d],[7,knot8dB],
  [3,trapCyan],[3,trapCyanB],[3,edgeCyan],[3,edgeCyanB],[3,lowCyan],[3,lowCyanB],[5,floor6],[5,floor6B],[6,floor7],[6,floor7B],
  [5,streak6],[5,streak6B],[6,streak7a],[6,streak7aB],[6,streak7b],[6,streak7bB],
  [3,gapCyan],[3,gapCyanB],[4,gap5],[4,gap5B],
  [3,lensCyan],[4,lens5],[2,lensHole],[2,lensHoleB],[5,lensArc],[5,lensArcB],
  [5,lens6],[6,lens7],[7,lens8],[8,lens9],[9,lens10],[9,lens10B],[10,lens11],[10,lens11B],[11,lens12],[11,lens12B],[12,lens13],[12,lens13B],
  [9,midYellow],[10,midOrange]
];
const shocks = [shockA, shockAB, shockC, shockCB, shockD, shockDB];

function toPoints(list, close) {
  const pts = [];
  for (let i = 0; i < list.length; i += 2) pts.push({x: list[i], y: list[i + 1]});
  if (close) pts.push(pts[0]);
  return pts;
}

const datasets = [];
// the first dataset is painted last, so shocks go in front
shocks.forEach(s => datasets.push({
  data: toPoints(s, false), showLine: true, fill: false, pointRadius: 0,
  borderColor: '#000', borderWidth: 3, tension: 0.3
}));
layers.slice().reverse().forEach(([band, outline]) => datasets.push({
  data: toPoints(outline, true), showLine: true, fill: 'shape', pointRadius: 0,
  backgroundColor: bandColors[band], borderColor: '#000', borderWidth: 0.8,
  tension: outline === frameBox ? 0 : 0.3
}));

// inward ticks, heavy axes, thin frame and the contour legend
const tecplotAxes = {
  id: 'tecplotAxes',
  afterDatasetsDraw(chart) {
    const {ctx, scales: {x, y}} = chart;
    const x0 = x.getPixelForValue(0), y0 = y.getPixelForValue(0);
    const xEnd = x.getPixelForValue(6.283), yEnd = y.getPixelForValue(6.283);
    ctx.save();
    // curves that bulge past the right edge of the domain get trimmed here
    ctx.fillStyle = '#fff';
    ctx.fillRect(xEnd, yEnd - 1, x.right - xEnd + 2, y0 - yEnd + 1);
    ctx.strokeStyle = '#444';
    ctx.lineWidth = 1;
    ctx.strokeRect(x0, yEnd, xEnd - x0, y0 - yEnd);
    ctx.strokeStyle = '#000';
    for (let i = 1; i <= 34; i++) {
      const px = x.getPixelForValue(i * 0.2);
      ctx.beginPath(); ctx.moveTo(px, y0); ctx.lineTo(px, y0 - 8); ctx.stroke();
      if (i <= 31) {
        const py = y.getPixelForValue(i * 0.2);
        ctx.beginPath(); ctx.moveTo(x0, py); ctx.lineTo(x0 + 8, py); ctx.stroke();
      }
    }
    ctx.lineWidth = 2.5;
    xTicks.forEach(v => {
      const px = x.getPixelForValue(v);
      ctx.beginPath(); ctx.moveTo(px, y0); ctx.lineTo(px, y0 - 14); ctx.stroke();
    });
    yTicks.forEach(v => {
      const py = y.getPixelForValue(v);
      ctx.beginPath(); ctx.moveTo(x0, py); ctx.lineTo(x0 + 15, py); ctx.stroke();
    });
    ctx.lineWidth = 3;
    ctx.beginPath();
    ctx.moveTo(x0, yEnd);
    ctx.lineTo(x0, y0);
    ctx.lineTo(x.right, y0);
    ctx.stroke();

    // legend box
    ctx.lineWidth = 1;
    ctx.strokeStyle = '#333';
    ctx.strokeRect(706.5, 89.5, 74, 313);
    ctx.fillStyle = '#000';
    ctx.font = '18.5px "Liberation Sans"';
    ctx.textAlign = 'center';
    ctx.textBaseline = 'middle';
    ctx.fillText('P', 764, 104);
    const top = 122, step = 22;
    ctx.lineWidth = 0.6;
    for (let i = bandColors.length - 1; i >= 0; i--) {
      const row = bandColors.length - 1 - i;
      const h = (i === 0 || row === 0) ? 11 : step;
      const yy = row === 0 ? top : top + 11 + (row - 1) * step;
      ctx.fillStyle = bandColors[i];
      ctx.fillRect(712, yy, 28, h);
      ctx.strokeRect(712, yy, 28, h);
    }
    ctx.fillStyle = '#000';
    ctx.textAlign = 'left';
    levels.forEach((lev, i) => {
      ctx.fillText(String(lev), 755, top + 15 + (levels.length - 1 - i) * step);
    });
    ctx.restore();
  }
};

const ctx = document.getElementById('myChart').getContext('2d');
new Chart(ctx, {
  type: 'scatter',
  data: {datasets},
  plugins: [tecplotAxes],
  options: {
    responsive: false,
    animation: false,
    events: [],
    layout: {autoPadding: false, padding: {top: 89, right: 99, left: 0, bottom: 0}},
    plugins: {legend: {display: false}, tooltip: {enabled: false}},
    scales: {
      x: {
        type: 'linear', min: 0, max: 6.9,
        afterFit(scale) { scale.height = 82; },
        grid: {display: false, drawTicks: false},
        border: {display: false},
        ticks: {
          stepSize: 1, includeBounds: false, autoSkip: false, maxRotation: 0, padding: 6, color: '#000',
          font: {family: 'Liberation Sans', size: 19},
          callback: v => xTicks.includes(v) ? String(v) : ''
        },
        title: {display: true, text: 'X', color: '#000', font: {family: 'Liberation Sans', size: 24, weight: 'bold'}, padding: {top: 0, bottom: 28}}
      },
      y: {
        type: 'linear', min: 0, max: 6.283,
        afterFit(scale) { scale.width = 108; },
        grid: {display: false, drawTicks: false},
        border: {display: false},
        ticks: {
          stepSize: 1, includeBounds: false, autoSkip: false, padding: 10, color: '#000',
          font: {family: 'Liberation Sans', size: 19},
          callback: v => yTicks.includes(v) ? String(v) : ''
        },
        title: {display: true, text: 'Y', color: '#000', font: {family: 'Liberation Sans', size: 24, weight: 'bold'}, padding: {top: 36, bottom: 0}}
      }
    }
  }
});
</script>
</body>
</html>
